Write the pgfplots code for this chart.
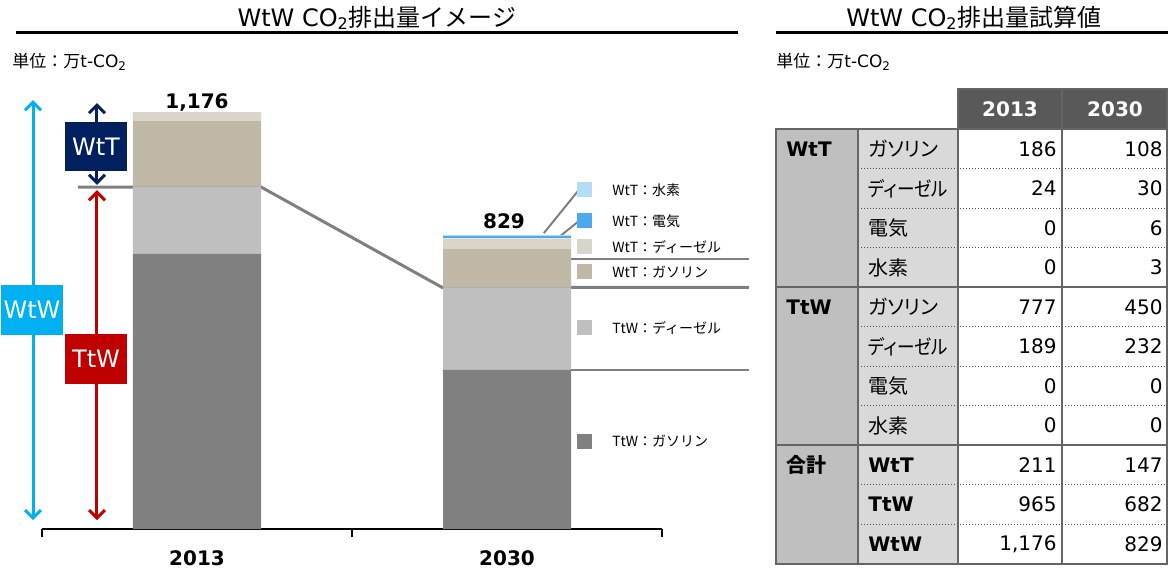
\documentclass[border=0pt]{standalone}
\usepackage{pgfplots}
\pgfplotsset{compat=1.18}
\usepackage{pgfplotstable}
\usepackage{graphicx}
\usepackage{fontspec}
\setmainfont{DejaVu Sans}
\newfontfamily\jp{Noto Sans CJK JP}
\newfontfamily\jpp[RawFeature=+palt]{Noto Sans CJK JP}
\usetikzlibrary{arrows.meta}

\definecolor{ttwgas}{HTML}{808080}
\definecolor{ttwdsl}{HTML}{BFBFBF}
\definecolor{wttgas}{HTML}{C0B8A6}
\definecolor{wttdsl}{HTML}{D8D5CA}
\definecolor{wttelec}{HTML}{4BA9EE}
\definecolor{wtth2}{HTML}{B3DCF6}
\definecolor{wtwcyan}{HTML}{00B0F0}
\definecolor{ttwred}{HTML}{C00000}
\definecolor{wttnavy}{HTML}{002060}
\definecolor{hdr}{HTML}{595959}
\definecolor{grpbg}{HTML}{BFBFBF}
\definecolor{itembg}{HTML}{D9D9D9}
\definecolor{rule}{HTML}{7F7F7F}

% 万t-CO2, WtT/TtW by fuel
\pgfplotstableread{
x ttwgas ttwdsl wttgas wttdsl wttelec wtth2
0 777 189 186 24 0 0
1 450 232 108 30 6 3
}\emissions

\newcommand\fs[1]{\fontsize{#1}{#1}\selectfont}

\begin{document}
\begin{tikzpicture}
\path[use as bounding box] (0pt,0pt) rectangle (584pt,-286pt);

\begin{axis}[
  at={(21pt,-264.5pt)}, anchor=south west,
  x=155pt, y=0.1772pt,
  xmin=-0.5, xmax=1.5, ymin=0, ymax=1200,
  ybar stacked, bar width=64pt,
  axis x line*=bottom, axis y line=none,
  xtick={-0.5,0.5,1.5}, xticklabels={},
  xtick align=outside, major tick length=4pt,
  ytick=\empty,
  clip=false,
  axis line style={black, line width=0.6pt},
  every tick/.style={black, line width=0.6pt},
]
\addplot[fill=ttwgas, draw=none] table[x=x, y=ttwgas] {\emissions};
\addplot[fill=ttwdsl, draw=none] table[x=x, y=ttwdsl] {\emissions};
\addplot[fill=wttgas, draw=none] table[x=x, y=wttgas] {\emissions};
\addplot[fill=wttdsl, draw=none] table[x=x, y=wttdsl] {\emissions};
\addplot[fill=wttelec, draw=none] table[x=x, y=wttelec] {\emissions};
\addplot[fill=wtth2, draw=none] table[x=x, y=wtth2] {\emissions};

% totals and categories
\node[anchor=base, yshift=2pt] at (axis cs:0,1176) {\fs{10pt}\bfseries 1,176};
\node[anchor=base, yshift=3.5pt, xshift=-1.5pt] at (axis cs:1,829) {\fs{10pt}\bfseries 829};
\node[anchor=base, yshift=-18pt] at (axis cs:0,0) {\fs{10pt}\bfseries 2013};
\node[anchor=base, yshift=-18pt] at (axis cs:1,0) {\fs{10pt}\bfseries 2030};

% TtW level connector
\draw[rule, line width=1.5pt] (axis cs:-0.384,965) -- (axis cs:0.2065,965)
  -- (axis cs:0.79,682) -- (axis cs:1.78,682);
\draw[rule, line width=1pt] (axis cs:1.2065,762) -- (axis cs:1.78,762);
\draw[rule, line width=1pt] (axis cs:1.2065,450) -- (axis cs:1.78,450);
\draw[rule, line width=1pt] (axis cs:1.119,835) -- (axis cs:1.232,957);
\draw[rule, line width=1pt] (axis cs:1.168,824) -- (axis cs:1.232,869);

% range arrows
\draw[wtwcyan, line width=1.5pt, {Straight Barb[length=4pt,width=8pt]}-{Straight Barb[length=4pt,width=8pt]}]
  (axis cs:-0.529,1210) -- (axis cs:-0.529,25);
\draw[ttwred, line width=1.5pt, {Straight Barb[length=4pt,width=8pt]}-{Straight Barb[length=4pt,width=8pt]}]
  (axis cs:-0.3226,956) -- (axis cs:-0.3226,25);
\draw[wttnavy, line width=1.5pt, {Straight Barb[length=4pt,width=8pt]}-{Straight Barb[length=4pt,width=8pt]}]
  (axis cs:-0.3226,1202) -- (axis cs:-0.3226,971);
\end{axis}

\begin{scope}[x=0.5pt, y=-0.5pt]
% titles
\node at (377,18) {\fs{12pt}WtW CO\textsubscript{2}{\jp 排出量イメージ}};
\node at (974,18) {\fs{12pt}WtW CO\textsubscript{2}{\jp 排出量試算値}};
\draw[line width=1.5pt] (16,33) -- (738,33);
\draw[line width=1.5pt] (776,33) -- (1168,33);
\node[anchor=west, inner sep=0] at (12,62) {\fs{8.5pt}{\jp 単位：万}t-CO\textsubscript{2}};
\node[anchor=west, inner sep=0] at (776,62) {\fs{8.5pt}{\jp 単位：万}t-CO\textsubscript{2}};

% labelled boxes
\fill[wtwcyan] (1,285) rectangle (63,335);
\node[text=white] at (32,310) {\fs{12pt}WtW};
\fill[ttwred] (65,334) rectangle (127,384);
\node[text=white] at (96,359) {\fs{12pt}TtW};
\fill[wttnavy] (65,122) rectangle (127,171);
\node[text=white] at (96,146.5) {\fs{12pt}WtT};

% legend
\foreach \c/\yy/\t in {wtth2/190/WtT：水素, wttelec/221/WtT：電気, wttdsl/247/WtT：ディーゼル,
    wttgas/272/WtT：ガソリン, ttwdsl/328/TtW：ディーゼル, ttwgas/441/TtW：ガソリン} {
  \fill[\c] (577,\yy-7.5) rectangle (592,\yy+7.5);
  \node[anchor=west, inner sep=0] at (612,\yy) {\jp\fs{7pt}\t};
}

% table
\def\rh{39.545}
\fill[grpbg] (776,129) rectangle (858,564);
\fill[itembg] (858,129) rectangle (958,564);
\fill[hdr] (958,89) rectangle (1167,129);
\foreach \i in {1,2,3,5,6,7,9,10}
  \draw[black!70, densely dotted, line width=0.5pt] (858,{129+\i*\rh}) -- (1167,{129+\i*\rh});
\foreach \i in {4,8}
  \draw[rule!80!black, line width=1pt] (776,{129+\i*\rh}) -- (1167,{129+\i*\rh});
\draw[rule!80!black, line width=1pt] (858,129) -- (858,564) (958,89) -- (958,564) (1062,89) -- (1062,564);
\draw[rule!80!black, line width=1pt] (776,129) rectangle (1167,564) (958,89) rectangle (1167,129);

\node[text=white] at (1010,109) {\fs{10pt}\bfseries 2013};
\node[text=white] at (1115,109) {\fs{10pt}\bfseries 2030};

\foreach \i/\g in {0/WtT, 4/TtW}
  \node[anchor=west, inner sep=0] at (786,{129+(\i+0.5)*\rh}) {\fs{10pt}\bfseries \g};
\node[anchor=west, inner sep=0] at (786,{129+8.5*\rh}) {\jp\fs{10pt}\bfseries 合計};

\foreach \i/\n/\a/\b in {0/ガソリン/186/108, 1/\scalebox{0.88}[1]{ディーゼル}/24/30, 2/電気/0/6, 3/水素/0/3,
    4/ガソリン/777/450, 5/\scalebox{0.88}[1]{ディーゼル}/189/232, 6/電気/0/0, 7/水素/0/0} {
  \node[anchor=west, inner sep=0] at (868,{129+(\i+0.5)*\rh}) {\jpp\fs{10pt}\n};
  \node[anchor=east, inner sep=0] at (1057,{129+(\i+0.5)*\rh}) {\fs{10pt}\a};
  \node[anchor=east, inner sep=0] at (1163,{129+(\i+0.5)*\rh}) {\fs{10pt}\b};
}
\foreach \i/\n/\a/\b in {8/WtT/211/147, 9/TtW/965/682, 10/WtW/{1,176}/829} {
  \node[anchor=west, inner sep=0] at (868,{129+(\i+0.5)*\rh}) {\fs{10pt}\bfseries \n};
  \node[anchor=east, inner sep=0] at (1057,{129+(\i+0.5)*\rh}) {\fs{10pt}\a};
  \node[anchor=east, inner sep=0] at (1163,{129+(\i+0.5)*\rh}) {\fs{10pt}\b};
}
\end{scope}
\end{tikzpicture}
\end{document}
